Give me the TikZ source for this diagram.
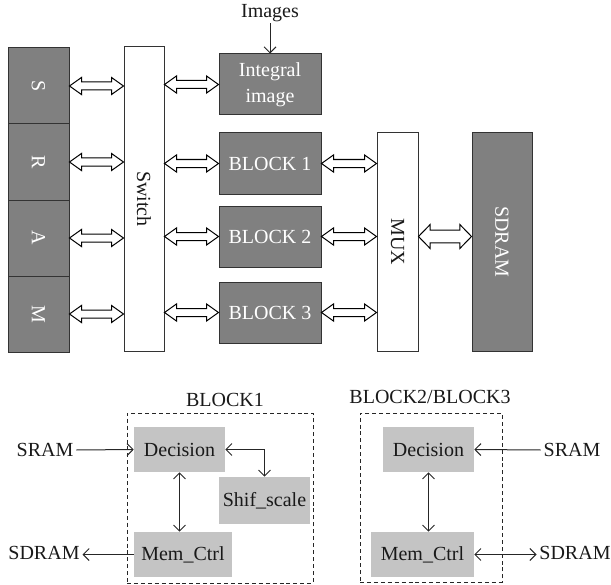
\documentclass[tikz,border=0pt]{standalone}
\usepackage{fontspec}
\setmainfont{Liberation Serif}
\usepackage{graphicx}
\usetikzlibrary{fit,calc,arrows.meta}

% hollow two-headed bus arrow between two points on one horizontal line
% #1 left end, #2 right end, #3 half shaft width, #4 half head width, #5 head length
\newcommand\wideconn[5]{%
  \draw[hollowline] let \p1=(#1), \p2=(#2) in
    (\x1,\y1) -- (\x1+#5,\y1+#4) -- (\x1+#5,\y1+#3) -- (\x2-#5,\y1+#3)
    -- (\x2-#5,\y1+#4) -- (\x2,\y1) -- (\x2-#5,\y1-#4) -- (\x2-#5,\y1-#3)
    -- (\x1+#5,\y1-#3) -- (\x1+#5,\y1-#4) -- cycle;}
\newcommand\smallconn[2]{\wideconn{#1}{#2}{3pt}{6.4pt}{9pt}}

\begin{document}
\begin{tikzpicture}[x=0.75pt,y=-0.75pt,
  font=\fontsize{15pt}{19.5pt}\selectfont,
  darkbox/.style={draw=black!80, line width=0.75pt, fill=black!50, inner sep=0pt},
  whitebox/.style={draw=black!80, line width=0.75pt, fill=white, inner sep=0pt},
  lightbox/.style={fill=black!23, inner sep=0pt},
  wtext/.style={text=white, inner sep=0pt, align=center},
  btext/.style={text=black!90, inner sep=0pt, align=center},
  hollowline/.style={draw=black, line width=0.75pt, fill=white, line join=miter},
  conn/.style={line width=0.75pt, draw=black!85},
  dashbox/.style={draw=black!85, line width=0.75pt, dash pattern=on 3pt off 2.2pt, inner sep=0pt},
  lbl/.style={inner sep=2pt, text=black!90},
  >={Straight Barb[length=4.5pt,width=9pt]}]

\useasboundingbox (0,0) rectangle (611,585);

% ---------- system overview ----------
\node[darkbox, fit={(8,48) (69,124)},  label={[wtext]center:\rotatebox{-90}{S}}] (s) {};
\node[darkbox, fit={(8,124) (69,200)}, label={[wtext]center:\rotatebox{-90}{R}}] (r) {};
\node[darkbox, fit={(8,200) (69,276)}, label={[wtext]center:\rotatebox{-90}{A}}] (a) {};
\node[darkbox, fit={(8,276) (69,352)}, label={[wtext]center:\rotatebox{-90}{M}}] (m) {};

\node[whitebox, fit={(124,47) (164,351)}, label={[btext]center:\rotatebox{-90}{Switch}}] (sw) {};

\node[darkbox, fit={(219,54) (321,115)},  label={[wtext]center:Integral\\image}] (ii) {};
\node[darkbox, fit={(219,133) (321,194)}, label={[wtext]center:BLOCK 1}] (b1) {};
\node[darkbox, fit={(219,206) (321,267)}, label={[wtext]center:BLOCK 2}] (b2) {};
\node[darkbox, fit={(219,282) (321,343)}, label={[wtext]center:BLOCK 3}] (b3) {};

\node[whitebox, fit={(377,133) (418,351)}, label={[btext]center:\rotatebox{-90}{MUX}}] (mux) {};
\node[darkbox, fit={(472,133) (532,351)}, label={[wtext]center:\rotatebox{-90}{SDRAM}}] (sd) {};

\node[lbl, inner sep=1pt] (img) at (270,13) {Images};
\draw[conn,->] (img.south) -- (ii.north);

% SRAM banks to switch
\smallconn{s.east}{s.east -| sw.west}
\smallconn{r.east}{r.east -| sw.west}
\smallconn{a.east}{a.east -| sw.west}
\smallconn{m.east}{m.east -| sw.west}

% switch to processing blocks
\smallconn{ii.west -| sw.east}{ii.west}
\smallconn{b1.west -| sw.east}{b1.west}
\smallconn{b2.west -| sw.east}{b2.west}
\smallconn{b3.west -| sw.east}{b3.west}

% blocks to multiplexer
\smallconn{b1.east}{b1.east -| mux.west}
\smallconn{b2.east}{b2.east -| mux.west}
\smallconn{b3.east}{b3.east -| mux.west}

% multiplexer to SDRAM
\wideconn{b2.east -| mux.east}{b2.east -| sd.west}{4.75pt}{9pt}{8.75pt}

% ---------- BLOCK1 detail ----------
\node[dashbox, fit={(127,413) (313,583)}] (blk1) {};
\node[lbl] (t1) at (225,400) {BLOCK1};
\node[lightbox, fit={(134,427) (225,472)},  label={[btext]center:Decision}] (d1) {};
\node[lightbox, fit={(219,477) (310,524)},  label={[btext]center:Shif\_scale}] (sh) {};
\node[lightbox, fit={(134,532) (232,577)},  label={[btext]center:Mem\_Ctrl}] (mc1) {};

\node[lbl] (sl) at (45,450) {SRAM};
\node[lbl] (dl) at (44,553) {SDRAM};
\draw[conn,->] (sl.east) -- (d1.west);
\draw[conn,->] (mc1.west) -- (mc1.west -| dl.east);
\draw[conn,<->] (d1.south) -- (d1.south |- mc1.north);
\draw[conn,<->] (d1.east) -| (sh.north);

% ---------- BLOCK2/BLOCK3 detail ----------
\node[dashbox, fit={(360,413) (502,582)}] (blk2) {};
\node[lbl] (t2) at (430,397) {BLOCK2/BLOCK3};
\node[lightbox, fit={(383,427) (474,472)}, label={[btext]center:Decision}] (d2) {};
\node[lightbox, fit={(371,532) (474,577)}, label={[btext]center:Mem\_Ctrl}] (mc2) {};

\node[lbl] (sr) at (572,450) {SRAM};
\node[lbl] (dr) at (575,553) {SDRAM};
\draw[conn,->] (sr.west) -- (d2.east);
\draw[conn,<->] (mc2.east) -- (mc2.east -| dr.west);
\draw[conn,<->] (d2.south) -- (d2.south |- mc2.north);

\end{tikzpicture}
\end{document}
